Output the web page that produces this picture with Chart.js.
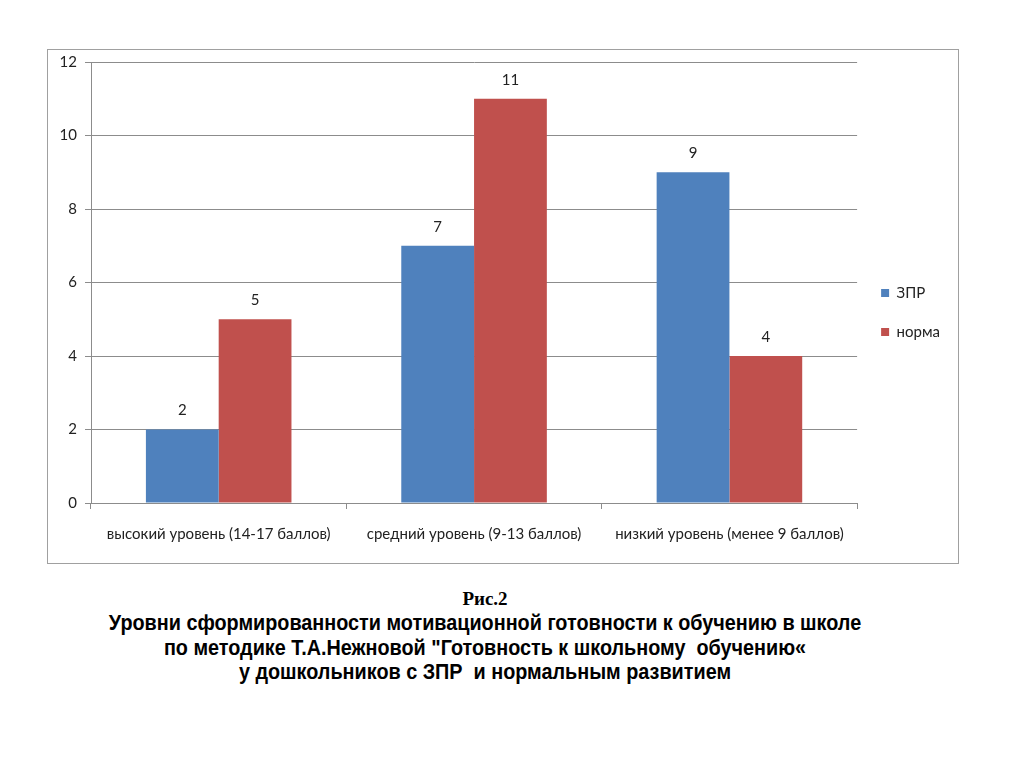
<!DOCTYPE html>
<html>
<head>
<meta charset="utf-8">
<script src="https://cdn.jsdelivr.net/npm/chart.js@4"></script>
<style>
  body { margin: 0; background: #fff; }
  #box {
    position: absolute; left: 47px; top: 49px;
    width: 910px; height: 513px;
    border: 1.5px solid #a0a0a0;
  }
  #myChart { display: block; }
  #caption {
    position: absolute; left: 35px; top: 587px; width: 900px;
    text-align: center; color: #000;
  }
  #fig { font: bold 19px "Liberation Serif", serif; line-height: 24px; }
  #title {
    font: bold 22px "Liberation Sans", sans-serif;
    line-height: 24.5px; white-space: pre;
    transform: scaleX(0.9); transform-origin: center;
  }
</style>
</head>
<body>
<div id="box"><canvas id="myChart" width="910" height="513"></canvas></div>
<div id="caption">
  <div id="fig">Рис.2</div>
  <div id="title">Уровни сформированности мотивационной готовности к обучению в школе
по методике Т.А.Нежновой "Готовность к школьному  обучению«
у дошкольников с ЗПР  и нормальным развитием</div>
</div>
<script>
const categories = [
  "высокий уровень (14-17 баллов)",
  "средний уровень (9-13 баллов)",
  "низкий уровень (менее 9 баллов)",
];
const zprValues = [2, 7, 9];
const normaValues = [5, 11, 4];
const yTicks = [0, 2, 4, 6, 8, 10, 12];

// numbers above the bars
const barLabels = {
  id: "barLabels",
  afterDatasetsDraw(chart) {
    const ctx = chart.ctx;
    ctx.save();
    ctx.font = "15px Lato, sans-serif";
    ctx.fillStyle = "#222";
    ctx.textAlign = "center";
    ctx.textBaseline = "middle";
    chart.data.datasets.forEach((ds, i) => {
      chart.getDatasetMeta(i).data.forEach((bar, j) => {
        ctx.fillText(ds.data[j], bar.x, bar.y - 19);
      });
    });
    ctx.restore();
  },
};

chartIt();

function chartIt() {
  const ctx = document.getElementById("myChart");

  new Chart(ctx, {
    type: "bar",
    data: {
      labels: categories,
      datasets: [
        {
          label: "ЗПР",
          data: zprValues,
          backgroundColor: "#4F81BD",
        },
        {
          label: "норма",
          data: normaValues,
          backgroundColor: "#C0504D",
        },
      ],
    },
    plugins: [barLabels],
    options: {
      responsive: false,
      animation: false,
      datasets: {
        bar: { barPercentage: 1, categoryPercentage: 0.57 },
      },
      layout: {
        autoPadding: false,
        padding: { top: 12, right: 8, bottom: 0, left: 0 },
      },
      plugins: {
        tooltip: { enabled: false },
        legend: {
          position: "right",
          labels: {
            boxWidth: 8,
            boxHeight: 8,
            padding: 24,
            color: "#222",
            font: { family: "Lato", size: 15 },
          },
        },
      },
      scales: {
        x: {
          afterFit: (scale) => {
            scale.height = 60;
            scale.paddingLeft = 0;
            scale.paddingRight = 0;
          },
          grid: {
            drawOnChartArea: false,
            offset: true,
            color: "#8c8c8c",
            tickLength: 6,
          },
          border: { color: "#8c8c8c" },
          ticks: {
            padding: 16,
            color: "#222",
            font: { family: "Lato", size: 15 },
          },
        },
        y: {
          min: 0,
          max: 12,
          afterFit: (scale) => {
            scale.width = 43;
            scale.paddingTop = 0;
            scale.paddingBottom = 0;
          },
          afterBuildTicks: (scale) => {
            scale.ticks = yTicks.map((v) => ({ value: v }));
          },
          grid: { color: "#8c8c8c", tickLength: 6 },
          border: { color: "#8c8c8c" },
          ticks: {
            padding: 8,
            color: "#222",
            font: { family: "Lato", size: 15 },
          },
        },
      },
    },
  });
}
</script>
</body>
</html>
